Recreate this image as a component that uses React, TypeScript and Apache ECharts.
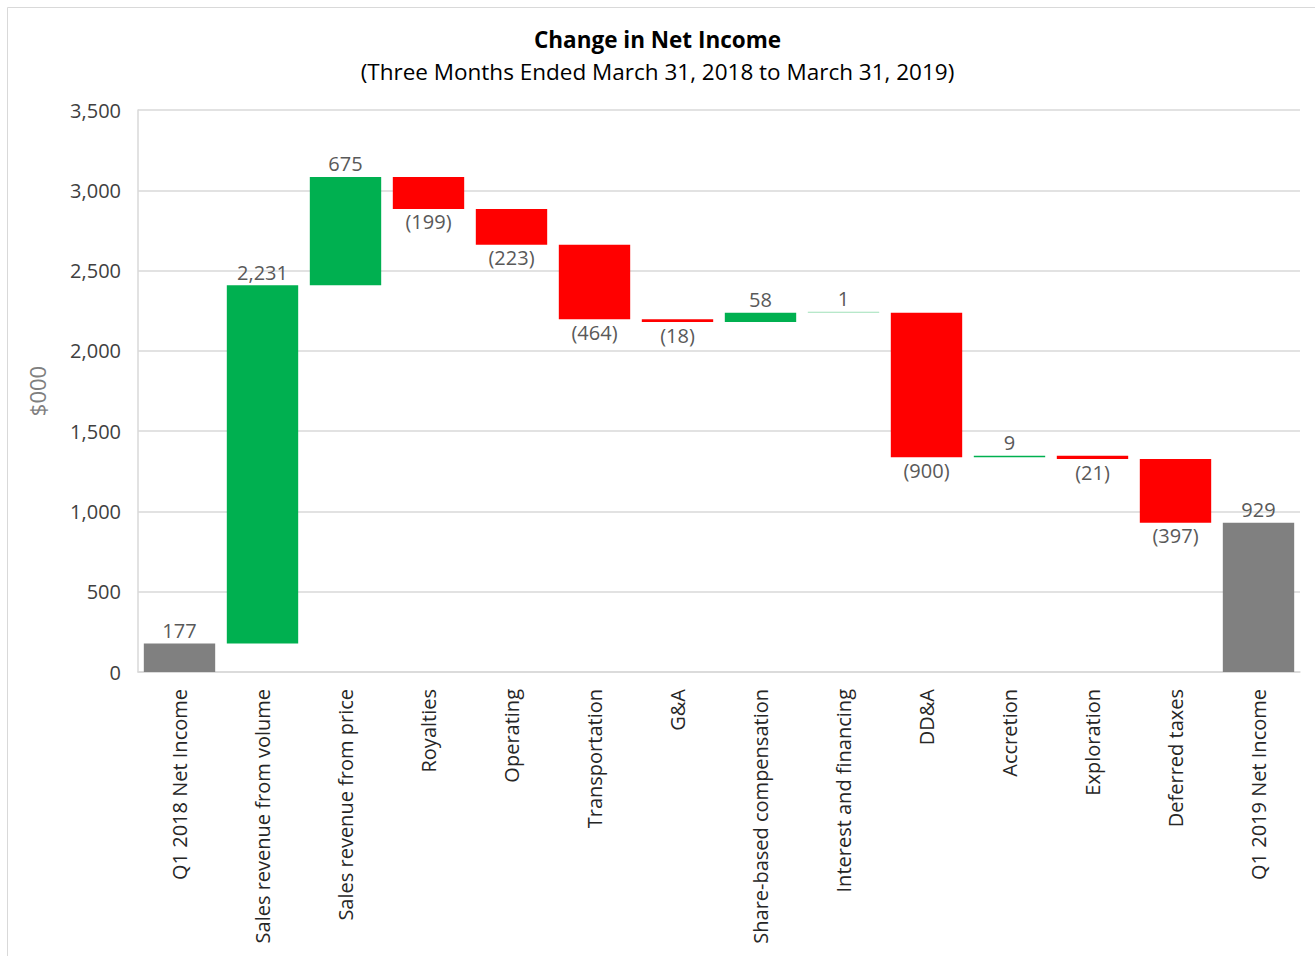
import React, { useEffect, useRef } from "react";
import * as echarts from "echarts";

const categories = [
  "Q1 2018 Net Income",
  "Sales revenue from volume",
  "Sales revenue from price",
  "Royalties",
  "Operating",
  "Transportation",
  "G&A",
  "Share-based compensation",
  "Interest and financing",
  "DD&A",
  "Accretion",
  "Exploration",
  "Deferred taxes",
  "Q1 2019 Net Income",
];
// signed changes; totals flagged separately
const changes = [177, 2231, 675, -199, -223, -464, -18, 58, 1, -900, 9, -21, -397, 929];
const isTotal = [true, false, false, false, false, false, false, false, false, false, false, false, false, true];
const yTicks = [0, 500, 1000, 1500, 2000, 2500, 3000, 3500];

const GREEN = "#00B050";
const RED = "#FF0000";
const GRAY = "#808080";
const FONT = "'Open Sans', 'Noto Sans', sans-serif";

export default function App() {
  const ref = useRef<HTMLDivElement>(null);
  useEffect(() => {
    if (!ref.current) return;
    const chart = echarts.init(ref.current, undefined, { renderer: "svg" });
    const base: number[] = [];
    const vals: any[] = [];
    let running = 0;
    changes.forEach((c, i) => {
      if (isTotal[i]) {
        base.push(0);
        running = c;
        vals.push({ value: c, itemStyle: { color: GRAY }, label: { position: "top" } });
      } else if (c >= 0) {
        base.push(running);
        running += c;
        vals.push({
          value: c,
          itemStyle: { color: c < 5 ? "#9fe0b8" : GREEN },
          label: { position: "top" },
        });
      } else {
        running += c;
        base.push(running);
        vals.push({ value: -c, itemStyle: { color: RED }, label: { position: "bottom" } });
      }
    });
    chart.setOption({
      animation: false,
      textStyle: { fontFamily: FONT },
      title: [
        {
          text: "Change in Net Income",
          left: "center",
          top: 23,
          textStyle: { fontFamily: FONT, fontSize: 22.5, fontWeight: "bold", color: "#000" },
        },
        {
          text: "(Three Months Ended March 31, 2018 to March 31, 2019)",
          left: "center",
          top: 55,
          textStyle: { fontFamily: FONT, fontSize: 22.5, fontWeight: "normal", color: "#000" },
        },
      ],
      graphic: [
        {
          type: "rect",
          shape: { x: 7.5, y: 7.5, width: 1320, height: 960 },
          style: { fill: "none", stroke: "#d9d9d9", lineWidth: 1 },
          silent: true,
        },
      ],
      grid: { left: 138, right: 15, top: 110, bottom: 284 },
      xAxis: {
        type: "category",
        data: categories,
        axisLine: { show: true, lineStyle: { color: "#d9d9d9", width: 1.5 } },
        axisTick: { show: false },
        axisLabel: {
          rotate: 90,
          interval: 0,
          margin: 17,
          fontSize: 20,
          color: "#262626",
          fontFamily: FONT,
        },
      },
      yAxis: {
        type: "value",
        min: 0,
        max: 3500,
        interval: 500,
        name: "$000",
        nameLocation: "middle",
        nameGap: 90,
        nameTextStyle: { fontSize: 22, color: "#7f7f7f", fontFamily: FONT },
        axisLine: { show: true, lineStyle: { color: "#d9d9d9", width: 1.5 } },
        axisTick: { show: false },
        splitLine: { lineStyle: { color: "#d9d9d9", width: 1.5 } },
        axisLabel: {
          margin: 17,
          fontSize: 20,
          color: "#404040",
          fontFamily: FONT,
          formatter: (v: number) => (yTicks.includes(v) ? v.toLocaleString("en-US") : ""),
        },
      },
      series: [
        {
          type: "bar",
          stack: "w",
          data: base,
          itemStyle: { color: "transparent" },
          emphasis: { disabled: true },
          barCategoryGap: "14%",
          silent: true,
        },
        {
          type: "bar",
          stack: "w",
          data: vals,
          barCategoryGap: "14%",
          barMinHeight: 1,
          label: {
            show: true,
            fontSize: 20,
            color: "#595959",
            fontFamily: FONT,
            distance: 3,
            formatter: (p: any) => {
              const c = changes[p.dataIndex];
              return c < 0 ? `(${Math.abs(c).toLocaleString("en-US")})` : c.toLocaleString("en-US");
            },
          },
        },
      ],
    });
    return () => chart.dispose();
  }, []);
  return (
    <div
      ref={ref}
      style={{ position: "fixed", left: 0, top: 0, width: 1315, height: 956, background: "#fff" }}
    />
  );
}
